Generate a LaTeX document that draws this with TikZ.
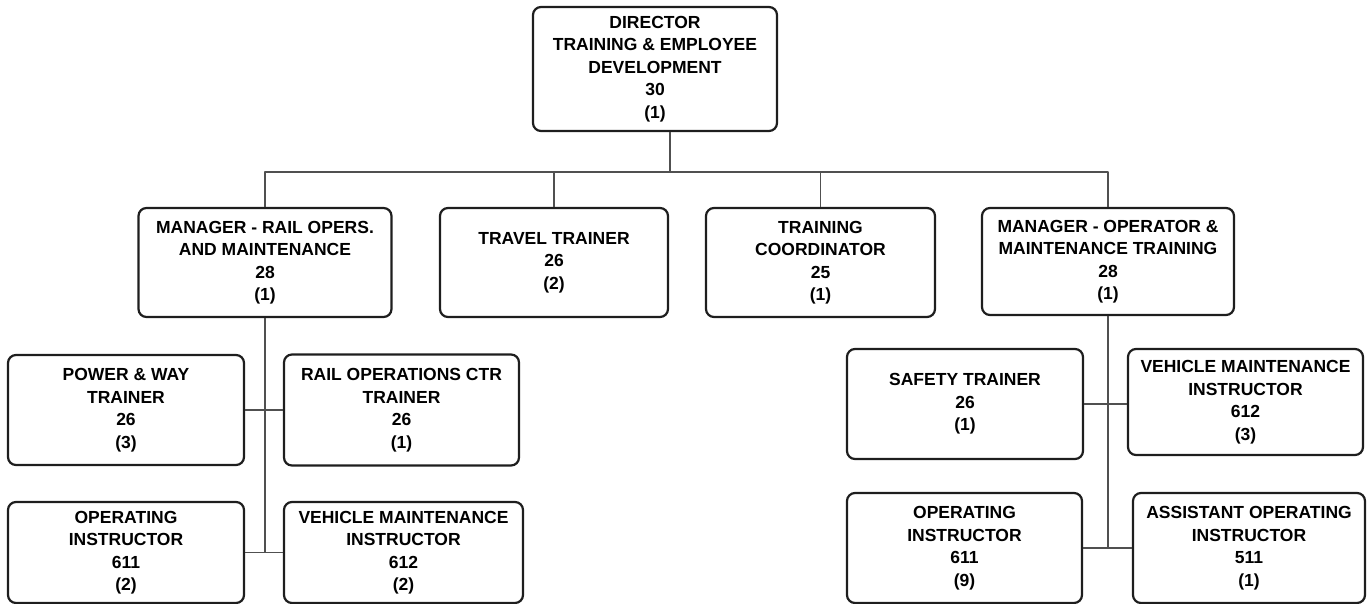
\documentclass[tikz,border=0pt]{standalone}
\usepackage{fontspec}
\setmainfont{Liberation Sans}
\usepackage{tikz}
\usetikzlibrary{positioning}
\definecolor{box_line}{HTML}{1E1E1E}
\definecolor{link_line}{HTML}{505050}
\tikzset{
  post/.style={draw=box_line, line width=2.2pt, rounded corners=8pt, align=center,
    inner sep=0pt, font=\fontsize{17.5}{22.5}\selectfont\bfseries},
  size/.style 2 args={minimum width=#1, minimum height=#2},
  link/.style={draw=link_line, line width=1.3pt}
}

\begin{document}
\begin{tikzpicture}[x=1pt,y=-1pt,line join=round]
	\useasboundingbox (0,0) rectangle (1372,604);

	% top
	\node[post, size={244}{124}] (dir) at (655,69)
	  {DIRECTOR\\TRAINING \& EMPLOYEE\\DEVELOPMENT\\30\\(1)};
	\coordinate (hub) at (670,172);

	% second row
	\node[post, size={253}{109}] (mrail) at (265,262.5)
	  {MANAGER - RAIL OPERS.\\AND MAINTENANCE\\28\\(1)};
	\node[post, size={228}{109}] (travel) at (554,262.5)
	  {TRAVEL TRAINER\\26\\(2)};
	\node[post, size={229}{109}] (coord) at (820.5,262.5)
	  {TRAINING\\COORDINATOR\\25\\(1)};
	\node[post, size={252}{107}] (mop) at (1108,261.5)
	  {MANAGER - OPERATOR \&\\MAINTENANCE TRAINING\\28\\(1)};

	% rail side
	\node[post, size={236}{110}] (pw) at (126,410)
	  {POWER \& WAY\\TRAINER\\26\\(3)};
	\node[post, size={235}{111}] (roc) at (401.5,410)
	  {RAIL OPERATIONS CTR\\TRAINER\\26\\(1)};
	\node[post, size={236}{101}] (oil) at (126,552.5)
	  {OPERATING\\INSTRUCTOR\\611\\(2)};
	\node[post, size={239}{101}] (vmil) at (403.5,552.5)
	  {VEHICLE MAINTENANCE\\INSTRUCTOR\\612\\(2)};

	% operator side
	\node[post, size={236}{110}] (safe) at (965,404)
	  {SAFETY TRAINER\\26\\(1)};
	\node[post, size={235}{106}] (vmir) at (1245.5,402)
	  {VEHICLE MAINTENANCE\\INSTRUCTOR\\612\\(3)};
	\node[post, size={235}{110}] (oir) at (964.5,548)
	  {OPERATING\\INSTRUCTOR\\611\\(9)};
	\node[post, size={232}{110}] (aoi) at (1249,548)
	  {ASSISTANT OPERATING\\INSTRUCTOR\\511\\(1)};

	% connectors
	\draw[link] (dir.south -| hub) -- (hub);
	\draw[link] (mrail.north) |- (hub) -| (mop.north);
	\draw[link] (travel.north) -- (travel.north |- hub);
	\draw[link] (coord.north) -- (coord.north |- hub);

	\draw[link] (mrail.south) -- (mrail.south |- oil.east);
	\draw[link] (pw.east) -- (pw.east -| roc.west);
	\draw[link] (oil.east) -- (vmil.west);

	\draw[link] (mop.south) -- (mop.south |- oir.east);
	\draw[link] (safe.east) -- (safe.east -| vmir.west);
	\draw[link] (oir.east) -- (aoi.west);
\end{tikzpicture}
\end{document}
